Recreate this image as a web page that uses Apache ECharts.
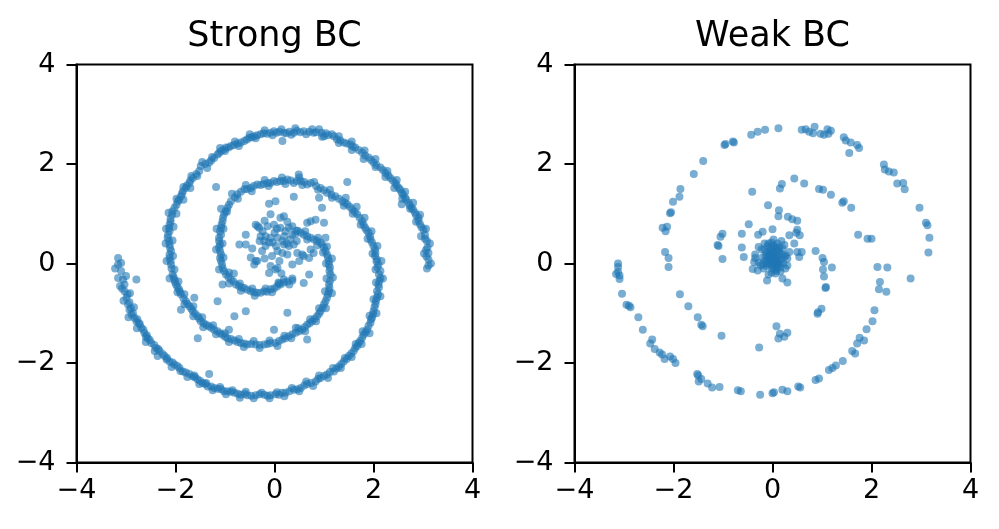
<!DOCTYPE html>
<html>
<head>
<meta charset="utf-8">
<script src="https://cdn.jsdelivr.net/npm/echarts@6/dist/echarts.min.js"></script>
<style>
  html, body { margin: 0; padding: 0; background: #fff; }
  #chart { width: 999px; height: 529px; }
</style>
</head>
<body>
<div id="chart"></div>
<script>
  // tick values shared by both panels
  const ticks = [-4, -2, 0, 2, 4];
  const titles = ['Strong BC', 'Weak BC'];

  // Strong BC: outer arm that starts on the left at (-3.2, 0)
  const strongArmA = [
    [-3.16,0.11],[-3.10,0.01],[-3.16,-0.02],[-3.10,-0.15],[-3.16,-0.29],[-3.06,-0.32],[-3.03,-0.42],[-3.08,-0.50],[-3.03,-0.56],[-2.97,-0.62],
    [-2.99,-0.69],[-2.93,-0.78],[-2.96,-0.82],[-2.90,-0.90],[-2.93,-0.93],[-2.86,-1.00],[-2.89,-1.03],[-2.83,-1.09],[-2.77,-1.12],[-2.79,-1.16],
    [-2.72,-1.22],[-2.69,-1.29],[-2.65,-1.33],[-2.63,-1.39],[-2.58,-1.44],[-2.56,-1.50],[-2.52,-1.54],[-2.49,-1.60],[-2.43,-1.64],[-2.39,-1.70],
    [-2.35,-1.72],[-2.32,-1.76],[-2.26,-1.82],[-2.22,-1.86],[-2.17,-1.90],[-2.12,-1.97],[-2.06,-1.99],[-2.02,-2.03],[-1.96,-2.06],[-1.92,-2.10],
    [-1.85,-2.17],[-1.79,-2.19],[-1.72,-2.22],[-1.65,-2.27],[-1.60,-2.29],[-1.55,-2.33],[-1.50,-2.36],[-1.45,-2.40],[-1.40,-2.42],[-1.35,-2.47],
    [-1.28,-2.47],[-1.22,-2.50],[-1.15,-2.52],[-1.08,-2.53],[-1.02,-2.57],[-0.95,-2.57],[-0.88,-2.58],[-0.81,-2.60],[-0.74,-2.62],[-0.68,-2.64],
    [-0.60,-2.62],[-0.55,-2.65],[-0.47,-2.66],[-0.38,-2.65],[-0.30,-2.63],[-0.21,-2.64],[-0.14,-2.66],[-0.08,-2.65],[0.02,-2.63],[0.09,-2.64],
    [0.15,-2.60],[0.22,-2.60],[0.30,-2.57],[0.39,-2.54],[0.46,-2.53],[0.53,-2.50],[0.60,-2.45],[0.66,-2.42],[0.74,-2.40],[0.83,-2.37],
    [0.88,-2.32],[0.93,-2.30],[1.00,-2.26],[1.06,-2.23],[1.12,-2.18],[1.20,-2.17],[1.25,-2.11],[1.30,-2.07],[1.35,-2.02],[1.40,-1.97],
    [1.46,-1.92],[1.50,-1.86],[1.55,-1.81],[1.60,-1.76],[1.63,-1.70],[1.67,-1.66],[1.70,-1.60],[1.73,-1.56],[1.77,-1.49],[1.80,-1.43],
    [1.84,-1.38],[1.87,-1.33],[1.90,-1.25],[1.94,-1.19],[1.95,-1.12],[1.97,-1.09],[1.99,-1.02],[2.00,-0.96],[2.02,-0.88],[2.04,-0.82],
    [2.05,-0.75],[2.07,-0.69],[2.09,-0.62],[2.07,-0.56],[2.11,-0.48],[2.10,-0.42],[2.12,-0.35],[2.14,-0.29],[2.11,-0.22],[2.14,-0.15],
    [2.08,-0.08],[2.10,-0.02],[2.06,0.04],[2.07,0.08],[2.03,0.15],[2.04,0.21],[2.03,0.28],[2.00,0.35],[1.97,0.42],[1.94,0.48],
    [1.93,0.55],[1.90,0.62],[1.86,0.67],[1.83,0.72],[1.80,0.78],[1.77,0.85],[1.72,0.92],[1.67,0.99],[1.62,1.04],[1.57,1.09],
    [1.52,1.14],[1.47,1.19],[1.42,1.22],[1.37,1.25],[1.30,1.30],[1.23,1.35],[1.15,1.38],[1.06,1.42],[1.00,1.47],[0.93,1.52],
    [0.84,1.56],[0.73,1.62],[0.66,1.59],[0.60,1.64],[0.53,1.66],[0.45,1.66],[0.39,1.62],[0.33,1.67],[0.26,1.69],[0.19,1.66],
    [0.12,1.66],[0.05,1.64],[-0.01,1.66],[-0.08,1.62],[-0.14,1.62],[-0.22,1.60],[-0.28,1.58],[-0.35,1.59],[-0.42,1.56],[-0.48,1.52],
    [-0.55,1.50],[-0.61,1.49],[-0.68,1.44],[-0.75,1.39],[-0.80,1.33],[-0.88,1.25],[-0.92,1.18],[-0.95,1.12],[-0.99,1.05],[-1.02,0.99],
    [-1.04,0.92],[-1.05,0.85],[-1.07,0.78],[-1.08,0.72],[-1.10,0.65],[-1.08,0.58],[-1.12,0.52],[-1.12,0.45],[-1.10,0.38],[-1.12,0.32],
    [-1.10,0.25],[-1.08,0.18],[-1.10,0.11],[-1.08,0.05],[-1.06,-0.02],[-1.05,-0.09],[-1.02,-0.15],[-0.98,-0.22],[-0.93,-0.27],[-0.88,-0.32],
    [-0.83,-0.36],[-0.78,-0.42],[-0.72,-0.45],[-0.66,-0.48],[-0.61,-0.49],[-0.55,-0.53],[-0.48,-0.56],[-0.41,-0.58],[-0.35,-0.59],[-0.28,-0.59],
    [-0.21,-0.56],[-0.15,-0.57],[-0.08,-0.52],[-0.01,-0.50],[0.05,-0.46],[0.12,-0.42],[0.19,-0.38],[0.26,-0.36],[0.36,-0.34]
  ];

  // Strong BC: points on the edges of the same band (it is about two dots wide)
  const strongArmAEdge = [
    [-3.22,-0.10],[-3.00,-0.25],[-3.12,-0.45],[-2.92,-0.60],[-3.05,-0.75],[-2.84,-0.88],[-2.95,-1.08],[-2.74,-1.20],[-2.78,-1.30],[-2.60,-1.47],
    [-2.60,-1.58],[-2.42,-1.76],[-2.36,-1.86],[-2.18,-1.93],[-2.08,-2.08],[-1.90,-2.16],[-1.76,-2.28],[-1.62,-2.25],[-1.52,-2.42],[-1.38,-2.40],
    [-1.25,-2.55],[-1.10,-2.48],[-0.98,-2.63],[-0.85,-2.55],[-0.70,-2.70],[-0.58,-2.58],[-0.42,-2.71],[-0.26,-2.60],[-0.10,-2.71],[0.05,-2.59],
    [0.20,-2.67],[0.35,-2.50],[0.50,-2.57],[0.64,-2.37],[0.78,-2.46],[0.90,-2.25],[1.08,-2.30],[1.18,-2.10],[1.34,-2.10],[1.42,-1.90],
    [1.56,-1.88],[1.64,-1.62],[1.76,-1.62],[1.78,-1.36],[1.92,-1.40],[1.92,-1.05],[2.06,-1.00],[2.00,-0.72],[2.14,-0.66],[2.05,-0.38],
    [2.19,-0.30],[2.04,-0.12],[2.16,0.05],[1.98,0.20],[2.08,0.35],[1.88,0.50],[1.96,0.65],[1.74,0.78],[1.82,0.92],[1.58,1.00],
    [1.66,1.14],[1.40,1.16],[1.44,1.32],[1.16,1.32],[1.12,1.48],[0.88,1.48],[0.80,1.64],[0.56,1.58],[0.50,1.73],[0.22,1.60],
    [0.15,1.73],[-0.12,1.56],[-0.20,1.68],[-0.46,1.45],[-0.58,1.58],[-0.74,1.30],[-0.86,1.40],[-0.96,1.04],[-1.08,1.10],[-1.03,0.70],
    [-1.17,0.70],[-1.05,0.40],[-1.18,0.28],[-1.03,0.12],[-1.12,-0.12],[-0.92,-0.18],[-0.92,-0.40],[-0.70,-0.40],[-0.68,-0.55],[-0.45,-0.50],
    [-0.40,-0.65],[-0.18,-0.50],[-0.05,-0.58],[0.08,-0.38],[0.30,-0.42]
  ];

  // Strong BC: outer arm that starts on the right at (3.1, -0.1)
  const strongArmB = [
    [3.08,-0.10],[3.11,-0.04],[3.11,0.08],[3.07,0.14],[3.11,0.21],[3.06,0.27],[3.09,0.32],[3.08,0.45],[3.04,0.50],[3.04,0.58],
    [3.01,0.68],[2.97,0.73],[2.94,0.79],[2.91,0.86],[2.91,0.92],[2.86,0.97],[2.84,1.02],[2.80,1.08],[2.77,1.12],[2.73,1.17],
    [2.71,1.22],[2.66,1.28],[2.64,1.32],[2.60,1.38],[2.57,1.42],[2.54,1.48],[2.51,1.52],[2.47,1.57],[2.44,1.62],[2.39,1.67],
    [2.34,1.72],[2.30,1.77],[2.24,1.82],[2.19,1.88],[2.14,1.93],[2.06,1.98],[2.00,2.03],[1.95,2.08],[1.90,2.13],[1.83,2.17],
    [1.77,2.23],[1.70,2.28],[1.63,2.33],[1.58,2.35],[1.53,2.39],[1.46,2.41],[1.40,2.43],[1.33,2.47],[1.26,2.50],[1.20,2.56],
    [1.16,2.60],[1.08,2.58],[1.00,2.56],[0.95,2.63],[0.90,2.70],[0.84,2.64],[0.79,2.63],[0.70,2.65],[0.59,2.66],[0.52,2.64],
    [0.45,2.67],[0.39,2.63],[0.30,2.65],[0.24,2.62],[0.19,2.63],[0.10,2.65],[0.04,2.63],[-0.01,2.66],[-0.08,2.63],[-0.15,2.61],
    [-0.22,2.62],[-0.28,2.60],[-0.35,2.58],[-0.41,2.56],[-0.46,2.54],[-0.51,2.53],[-0.56,2.49],[-0.61,2.46],[-0.68,2.43],[-0.75,2.41],
    [-0.82,2.38],[-0.88,2.36],[-0.93,2.33],[-0.98,2.33],[-1.03,2.29],[-1.08,2.26],[-1.12,2.22],[-1.15,2.19],[-1.22,2.12],[-1.28,2.07],
    [-1.32,2.03],[-1.40,2.00],[-1.49,1.96],[-1.52,1.86],[-1.58,1.80],[-1.65,1.72],[-1.70,1.67],[-1.72,1.62],[-1.77,1.57],[-1.79,1.52],
    [-1.85,1.45],[-1.87,1.40],[-1.89,1.35],[-1.93,1.28],[-1.95,1.25],[-1.98,1.18],[-2.02,1.12],[-2.06,1.05],[-2.07,0.98],[-2.10,0.90],
    [-2.10,0.84],[-2.12,0.78],[-2.13,0.71],[-2.12,0.65],[-2.15,0.58],[-2.16,0.52],[-2.13,0.45],[-2.12,0.38],[-2.11,0.31],[-2.09,0.25],
    [-2.12,0.18],[-2.12,0.11],[-2.10,0.05],[-2.09,-0.02],[-2.08,-0.10],[-2.06,-0.22],[-2.04,-0.27],[-2.02,-0.32],[-2.01,-0.37],[-1.99,-0.42],
    [-1.96,-0.47],[-1.93,-0.52],[-1.91,-0.57],[-1.89,-0.62],[-1.84,-0.70],[-1.79,-0.76],[-1.76,-0.81],[-1.72,-0.86],[-1.68,-0.91],[-1.65,-0.96],
    [-1.60,-1.01],[-1.55,-1.06],[-1.52,-1.11],[-1.49,-1.16],[-1.43,-1.20],[-1.38,-1.23],[-1.33,-1.26],[-1.28,-1.29],[-1.22,-1.33],[-1.15,-1.36],
    [-1.10,-1.40],[-1.05,-1.43],[-1.00,-1.47],[-0.95,-1.50],[-0.88,-1.52],[-0.81,-1.55],[-0.75,-1.58],[-0.68,-1.60],[-0.61,-1.61],[-0.55,-1.63],
    [-0.47,-1.62],[-0.38,-1.63],[-0.30,-1.64],[-0.21,-1.63],[-0.14,-1.62],[-0.08,-1.60],[0.02,-1.60],[0.09,-1.56],[0.16,-1.53],[0.22,-1.50],
    [0.29,-1.46],[0.36,-1.42],[0.43,-1.39],[0.50,-1.36],[0.56,-1.33],[0.61,-1.28],[0.66,-1.23],[0.71,-1.20],[0.76,-1.16],[0.81,-1.11],
    [0.86,-1.06],[0.90,-1.01],[0.93,-0.96],[0.97,-0.89],[1.00,-0.82],[1.03,-0.76],[1.06,-0.69],[1.08,-0.62],[1.10,-0.56],[1.11,-0.49],
    [1.10,-0.42],[1.12,-0.35],[1.13,-0.22],[1.11,-0.15],[1.12,-0.08],[1.10,-0.02],[1.10,0.05],[1.08,0.12],[1.06,0.18],[1.03,0.25],
    [1.00,0.32],[0.96,0.38],[0.93,0.42],[0.86,0.45],[0.80,0.48],[0.73,0.52],[0.66,0.55],[0.59,0.58],[0.53,0.62],[0.47,0.66]
  ];

  const strongArmBEdge = [
    [3.16,0.00],[3.02,0.20],[3.14,0.40],[2.96,0.55],[3.06,0.70],[2.86,0.84],[2.94,0.98],[2.74,1.10],[2.80,1.22],[2.58,1.30],
    [2.64,1.44],[2.42,1.52],[2.47,1.68],[2.24,1.74],[2.28,1.86],[2.04,1.94],[2.04,2.10],[1.80,2.10],[1.82,2.27],[1.56,2.28],
    [1.56,2.45],[1.30,2.42],[1.30,2.56],[1.04,2.62],[0.96,2.55],[0.76,2.70],[0.64,2.60],[0.42,2.72],[0.34,2.59],[0.14,2.70],
    [-0.04,2.58],[-0.20,2.68],[-0.38,2.52],[-0.50,2.60],[-0.72,2.36],[-0.80,2.45],[-1.00,2.26],[-1.10,2.32],[-1.26,2.14],[-1.36,1.92],
    [-1.46,2.04],[-1.56,1.76],[-1.68,1.76],[-1.70,1.52],[-1.84,1.54],[-1.84,1.28],[-1.98,1.30],[-1.98,1.00],[-2.14,1.02],[-2.04,0.74],
    [-2.19,0.70],[-2.06,0.46],[-2.20,0.40],[-2.05,0.15],[-2.18,0.05],[-2.02,-0.12],[-2.12,-0.30],[-1.94,-0.36],[-1.96,-0.58],[-1.82,-0.62],
    [-1.82,-0.82],[-1.64,-0.86],[-1.64,-1.06],[-1.46,-1.08],[-1.44,-1.28],[-1.24,-1.24],[-1.18,-1.42],[-1.00,-1.40],[-0.92,-1.58],[-0.72,-1.52],
    [-0.62,-1.68],[-0.42,-1.56],[-0.30,-1.70],[-0.10,-1.55],[0.06,-1.66],[0.20,-1.45],[0.34,-1.50],[0.48,-1.30],[0.62,-1.36],[0.72,-1.12],
    [0.84,-1.16],[0.90,-0.90],[1.04,-0.90],[1.02,-0.56],[1.16,-0.60],[1.05,-0.30],[1.18,-0.28],[1.04,0.00],[1.16,0.10],[0.98,0.22],
    [1.06,0.34],[0.86,0.36],[0.88,0.52],[0.66,0.48],[0.62,0.65],[0.42,0.60]
  ];

  // Strong BC: scattered points off the arms, mostly near the centre
  const strongCore = [
    [1.47,1.64],[0.39,1.34],[-0.11,1.20],[0.90,1.32],[0.96,1.12],[-0.08,0.99],[0.19,0.95],[-0.38,0.78],[-0.31,0.72],[-0.14,0.75],
    [-0.01,0.78],[0.12,0.72],[0.22,0.65],[0.36,0.75],[0.36,0.58],[0.00,0.62],[0.06,0.52],[-0.18,0.55],[-0.11,0.42],[0.16,0.45],
    [0.29,0.35],[0.39,0.38],[0.32,0.48],[0.03,0.35],[-0.04,0.42],[-0.58,0.58],[-0.71,0.38],[-0.58,0.38],[-0.21,0.45],[0.66,0.82],
    [0.83,0.88],[1.00,0.82],[0.56,0.18],[0.70,0.11],[0.73,0.28],[0.16,0.21],[0.26,0.18],[-0.41,-0.02],[-0.35,0.05],[-0.08,-0.05],
    [0.36,-0.02],[-0.11,-0.19],[0.02,-0.12],[0.70,-0.22],[0.59,-0.39],[-1.05,-0.42],[-1.15,-0.76],[-1.89,-0.93],[-0.58,-0.96],[-0.81,-1.06],
    [0.26,-0.99],[-0.01,-1.33],[0.66,-1.53],[-1.55,-1.50],[-1.62,-0.69],[-0.92,-1.33],[-1.32,-2.22],[-2.79,-0.32],[0.16,2.46],[2.57,1.19],
    [0.49,1.79],[1.03,0.52],[0.02,1.25],[0.12,0.92],[0.29,0.72],[0.19,0.38],[0.06,0.25],[0.46,0.21],[0.59,0.15],[0.79,0.21],
    [0.43,-1.29],[-1.18,1.54],[-0.34,0.75],[-0.24,0.65],[-0.28,0.55],[-0.18,0.35],[-0.38,0.05],[-0.08,0.52],[0.25,0.40],[0.06,-0.09],
    [0.19,-0.32],[0.36,-0.30],[0.09,-0.40],[-0.82,-0.20],[0.73,0.85],[-0.25,0.25],[0.10,0.05],[-0.20,0.10],[0.45,0.45],[-0.45,0.30],
    [0.20,0.55],[-0.05,0.15],[0.50,0.05],[-0.30,0.45],[0.05,0.70],[0.26,0.84],[-0.20,0.86],[0.44,0.66],[-0.48,0.12],[0.14,-0.20]
  ];

  // Weak BC: outer arm points
  const weakOuter = [
    [-3.12,0.00],[-3.12,-0.07],[-3.16,-0.21],[-3.12,-0.17],[-3.09,-0.24],[-3.09,-0.31],[-3.04,-0.61],[-2.95,-0.83],[-2.90,-0.85],[-2.87,-0.88],
    [-2.71,-1.08],[-2.62,-1.33],[-2.43,-1.53],[-2.47,-1.61],[-2.38,-1.72],[-2.28,-1.79],[-2.23,-1.83],[-2.18,-1.92],[-2.07,-1.87],[-2.01,-1.92],
    [-1.96,-2.00],[-1.52,-2.22],[-1.50,-2.25],[-1.44,-2.32],[-1.49,-2.37],[-1.31,-2.41],[-1.22,-2.49],[-1.07,-2.48],[-0.70,-2.55],[-0.64,-2.57],
    [-0.25,-2.64],[0.00,-2.61],[0.03,-2.59],[0.20,-2.54],[0.30,-2.57],[0.52,-2.47],[0.56,-2.49],[0.87,-2.34],[0.94,-2.31],[1.14,-2.14],
    [1.21,-2.10],[1.28,-2.05],[1.42,-1.96],[1.61,-1.76],[1.67,-1.81],[1.71,-1.61],[1.76,-1.49],[1.85,-1.55],[1.90,-1.32],[2.02,-1.16],
    [2.06,-0.94],[2.30,-0.57],[2.15,-0.52],[2.17,-0.37],[2.12,-0.07],[2.32,-0.08],[2.79,-0.30],
    [3.15,0.22],[3.17,0.52],[3.13,0.77],[3.10,0.82],[2.97,1.12],[2.67,1.49],[2.64,1.62],[2.52,1.61],[2.45,1.83],[2.35,1.85],
    [2.27,1.89],[2.25,1.99],[1.75,2.32],[1.71,2.38],[1.55,2.22],[1.58,2.43],[1.48,2.47],[1.44,2.54],[1.18,2.67],[1.13,2.61],
    [1.11,2.70],[1.04,2.59],[0.97,2.61],[0.82,2.62],[0.85,2.75],[0.74,2.65],[0.67,2.70],[0.59,2.69],[0.12,2.72],[-0.15,2.69],
    [-0.30,2.65],[-0.43,2.59],[-0.78,2.43],[-0.80,2.45],[-0.95,2.40],[-0.97,2.38],[-1.40,2.06],[-1.59,1.80],[-1.86,1.50],[-1.88,1.34],
    [-2.01,1.24],[-2.07,1.01],[-2.05,1.03],[-2.22,0.72],[-2.13,0.74],[-2.16,0.65],[-2.17,0.23],[-2.10,0.11],[-2.10,-0.07]
  ];

  // Weak BC: inner turns of the arms
  const weakInner = [
    [1.73,0.58],[1.92,0.50],[2.00,0.50],[1.59,1.12],[1.44,1.25],[1.41,1.22],[1.18,1.38],[1.02,1.48],[0.94,1.50],[0.64,1.61],
    [0.44,1.71],[0.19,1.60],[0.15,1.51],[-0.41,1.44],[-0.09,1.17],[0.13,1.07],[0.12,0.95],[0.31,0.94],[0.40,0.89],[0.50,0.86],
    [0.50,0.68],[0.48,0.62],[0.55,0.57],[0.34,0.57],[0.00,0.69],[0.44,0.40],[0.24,0.37],[0.34,0.23],[0.50,0.23],[0.59,0.23],
    [0.54,0.13],[0.27,0.16],[0.87,0.25],[1.01,0.11],[1.04,0.03],[1.02,-0.12],[1.20,-0.08],[1.04,-0.26],[1.08,-0.47],[1.07,-0.49],
    [0.99,-0.91],[0.91,-1.01],[0.92,-0.98],[0.08,-1.26],[0.15,-1.41],[0.12,-1.51],[0.24,-1.47],[0.30,-1.39],[-0.27,-1.69],[-1.03,-1.45],
    [-1.44,-1.23],[-1.41,-1.26],[-1.51,-1.08],[-1.70,-0.86],[-1.87,-0.62],[-0.48,0.79],[-0.20,0.64],[-0.29,0.58],[-0.62,0.60],[-1.01,0.60],
    [-1.05,0.54],[-1.11,0.37],[-1.09,0.35],[-0.62,0.32],[-0.28,0.33],[-0.58,0.13],[-1.01,0.09],[-0.35,0.11]
  ];

  // Weak BC: dense blob at the origin
  const weakCore = [
    [0.00,0.05],[0.05,0.10],[-0.05,0.00],[0.10,0.00],[-0.10,0.10],[0.02,0.20],[0.08,0.25],[-0.04,0.30],[0.12,0.15],[-0.12,-0.05],
    [0.15,-0.08],[0.00,-0.10],[-0.08,0.18],[0.06,-0.05],[0.18,0.08],[-0.15,0.05],[0.04,0.35],[-0.02,0.42],[0.10,0.40],[-0.10,0.35],
    [0.20,0.30],[0.22,0.00],[-0.20,0.12],[-0.18,-0.10],[0.08,-0.15],[-0.02,-0.18],[0.14,0.22],[-0.06,0.24],[0.00,0.12],[0.04,0.02],
    [-0.04,0.08],[0.10,0.08],[-0.12,0.22],[0.16,-0.16],[-0.24,-0.04],[-0.28,0.02],[0.24,0.14],[0.26,-0.10],[-0.08,-0.22],[0.06,-0.20],
    [0.02,0.48],[-0.16,0.40],[0.14,0.32],[0.30,0.10],[-0.30,-0.14],[-0.22,0.28],[0.18,0.45],[0.07,0.15],[-0.01,0.22],[0.12,-0.02],
    [-0.09,-0.01],[0.03,-0.02],[-0.14,0.15],[-0.11,-0.34],[0.20,-0.30],[0.30,-0.38],[-0.40,-0.11],[-0.37,0.03],[-0.35,0.18],[0.30,-0.04],
    [0.02,0.28],[-0.06,0.12],[0.08,0.32],[0.16,0.02],[-0.02,-0.04],[0.06,0.06],[-0.12,0.02],[0.12,0.26],[-0.08,0.40],[0.00,0.36],
    [0.10,-0.08],[-0.16,0.28],[0.20,0.18],[-0.04,0.16],[0.04,-0.12],[-0.20,-0.02]
  ];

  const strongPts = strongArmA.concat(strongArmAEdge, strongArmB, strongArmBEdge, strongCore);
  const weakPts = weakOuter.concat(weakInner, weakCore);

  const font = 'DejaVu Sans';
  const gridLefts = [76.5, 574.5];
  const fmt = v => (v < 0 ? '\u2212' : '') + Math.abs(v);

  function axis(i, isX) {
    return {
      type: 'value',
      gridIndex: i,
      min: ticks[0],
      max: ticks[ticks.length - 1],
      interval: 2,
      splitLine: { show: false },
      axisLine: { show: true, onZero: false, lineStyle: { color: '#000', width: 2 } },
      axisTick: { show: true, inside: false, length: 10, lineStyle: { color: '#000', width: 2 } },
      axisLabel: {
        show: true, color: '#000', fontFamily: font, fontSize: 27,
        margin: isX ? 15 : 21, formatter: fmt
      }
    };
  }

  const chart = echarts.init(document.getElementById('chart'), null, { renderer: 'canvas' });
  chart.setOption({
    animation: false,
    backgroundColor: '#fff',
    title: titles.map((t, i) => ({
      text: t,
      left: gridLefts[i] + 198,
      top: 19,
      padding: 0,
      textAlign: 'center',
      textStyle: { fontFamily: font, fontSize: 35, fontWeight: 'normal', color: '#000' }
    })),
    grid: gridLefts.map(l => ({
      left: l, top: 64.5, width: 396, height: 398,
      show: true, borderColor: '#000', borderWidth: 2, backgroundColor: 'transparent'
    })),
    xAxis: [axis(0, true), axis(1, true)],
    yAxis: [axis(0, false), axis(1, false)],
    series: [strongPts, weakPts].map((d, i) => ({
      type: 'scatter',
      xAxisIndex: i,
      yAxisIndex: i,
      data: d,
      symbolSize: 8,
      silent: true,
      itemStyle: { color: '#1f77b4', opacity: 0.6 }
    }))
  });
</script>
</body>
</html>
